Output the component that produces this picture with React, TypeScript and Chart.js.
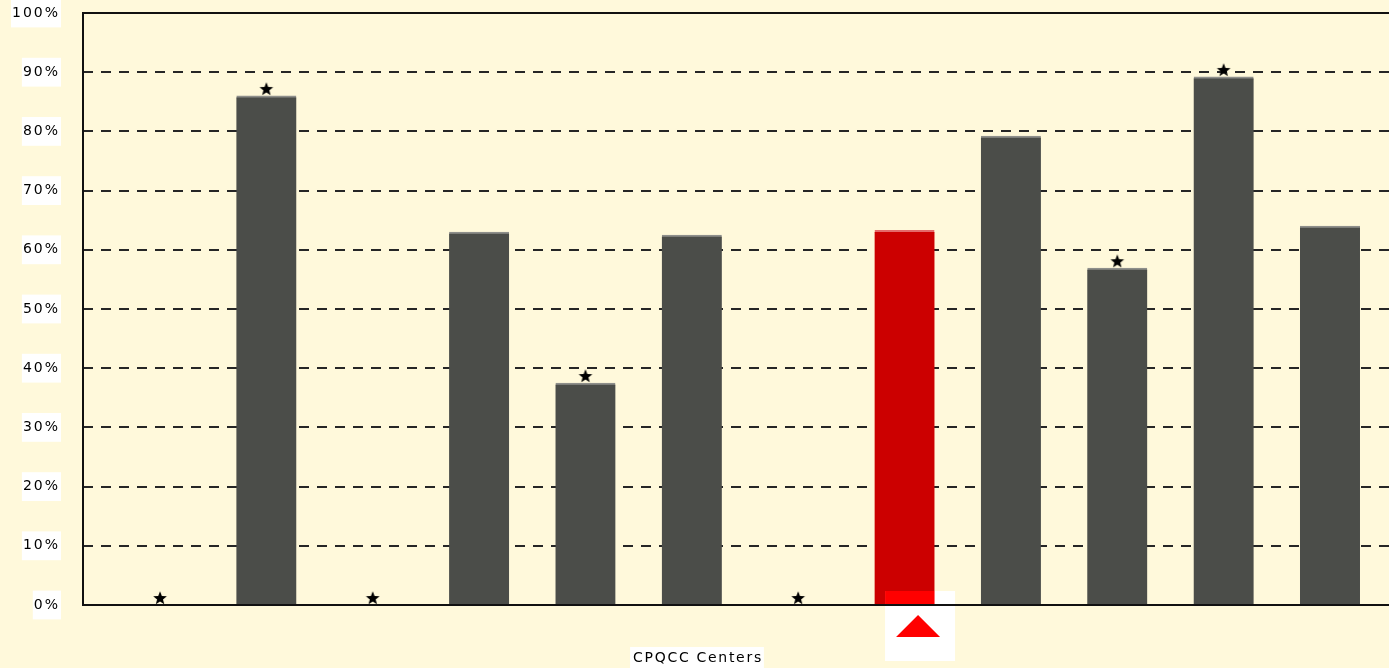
import React, { useEffect, useRef } from 'react';
import { Chart, registerables } from 'chart.js';

Chart.register(...registerables);

// ---- data ----
const centers = ['Center 1', 'Center 2', 'Center 3', 'Center 4', 'Center 5', 'Center 6', 'Center 7', 'Center 8', 'Center 9', 'Center 10', 'Center 11', 'Center 12'];
const rates: (number | null)[] = [null, 86, null, 63, 37.5, 62.5, null, 63.3, 79.2, 56.9, 89.2, 64];
const starred: boolean[] = [true, true, true, false, true, false, true, false, false, true, true, false];
const highlightIndex = 7;
const yTickValues = [0, 10, 20, 30, 40, 50, 60, 70, 80, 90, 100];
const xAxisTitle = 'CPQCC Centers';

const BG = '#FFF9DB';
const BAR = '#4B4D49';
const BAR_TOP = '#8E8F8B';
const RED = '#CC0000';
const RED_TOP = '#E46A6A';
const FONT = '"DejaVu Sans", Verdana, sans-serif';

function makeStar(): HTMLCanvasElement {
  const c = document.createElement('canvas');
  c.width = 18;
  c.height = 28;
  const g = c.getContext('2d')!;
  const cx = 9, cy = 7.5, R = 7.2, r = 3.1;
  g.beginPath();
  for (let k = 0; k < 10; k++) {
    const ang = -Math.PI / 2 + (k * Math.PI) / 5;
    const rad = k % 2 === 0 ? R : r;
    const px = cx + rad * Math.cos(ang);
    const py = cy + rad * Math.sin(ang);
    if (k === 0) g.moveTo(px, py); else g.lineTo(px, py);
  }
  g.closePath();
  g.fillStyle = '#000';
  g.fill();
  return c;
}

const spacingPlugin = {
  id: 'spacing',
  beforeUpdate(chart: any) { chart.ctx.letterSpacing = '2px'; },
  beforeDraw(chart: any) {
    chart.ctx.letterSpacing = '2px';
  },
};

const bgPlugin = {
  id: 'bgfill',
  beforeDraw(chart: any) {
    const { ctx, width, height } = chart;
    ctx.save();
    ctx.fillStyle = BG;
    ctx.fillRect(0, 0, width, height);
    ctx.restore();
  },
};

const overlayPlugin = {
  id: 'overlay',
  afterDatasetsDraw(chart: any) {
    const { ctx, chartArea } = chart;
    const el: any = chart.getDatasetMeta(0).data[highlightIndex];
    ctx.save();
    if (el) {
      const base = chartArea.bottom;
      const boxL = el.x - 19.5;
      const boxT = base - 14;
      ctx.fillStyle = '#FFFFFF';
      ctx.fillRect(boxL, boxT, 70, 70);
      ctx.fillStyle = '#FF0000';
      ctx.fillRect(boxL, boxT, el.x + el.width / 2 - boxL, base - boxT);
      ctx.beginPath();
      ctx.moveTo(boxL + 11, boxT + 46);
      ctx.lineTo(boxL + 55, boxT + 46);
      ctx.lineTo(boxL + 33, boxT + 24);
      ctx.closePath();
      ctx.fill();
    }
    // frame
    ctx.strokeStyle = '#111111';
    ctx.lineWidth = 2;
    ctx.setLineDash([]);
    ctx.strokeRect(chartArea.left, chartArea.top, chartArea.right - chartArea.left, chartArea.bottom - chartArea.top);
    // x axis title
    ctx.font = `14px ${FONT}`;
    ctx.letterSpacing = '1.7px';
    const w = ctx.measureText(xAxisTitle).width;
    const cx = 697;
    const cy = 658;
    ctx.fillStyle = '#FFFFFF';
    ctx.fillRect(cx - w / 2 - 2, cy - 11, w + 4, 22);
    ctx.fillStyle = '#000000';
    ctx.textAlign = 'center';
    ctx.textBaseline = 'middle';
    ctx.fillText(xAxisTitle, cx + 1, cy);
    ctx.restore();
  },
};

export default function App() {
  const ref = useRef<HTMLCanvasElement>(null);
  useEffect(() => {
    document.body.style.margin = '0';
    const star = makeStar();
    const barData = rates.map((v, i) => ({ x: i, y: v }));
    const starData = starred
      .map((s, i) => (s ? { x: i, y: rates[i] ?? 0 } : null))
      .filter((p) => p !== null) as { x: number; y: number }[];
    const chart = new Chart(ref.current!, {
      type: 'bar',
      data: {
        labels: centers,
        datasets: [
          {
            type: 'bar',
            label: 'Rate',
            data: barData as any,
            backgroundColor: rates.map((_, i) => (i === highlightIndex ? RED : BAR)),
            borderColor: rates.map((_, i) => (i === highlightIndex ? RED_TOP : BAR_TOP)),
            borderWidth: { top: 2, left: 0, right: 0, bottom: 0 } as any,
            borderSkipped: 'bottom',
            barThickness: 60,
          } as any,
          {
            type: 'scatter',
            label: 'Significant',
            data: starData as any,
            pointStyle: star as any,
            pointRadius: 8,
            showLine: false,
          } as any,
        ],
      },
      options: {
        responsive: false,
        animation: false,
        events: [],
        layout: { padding: { left: 0, top: 13, right: 23, bottom: 63 } },
        plugins: { legend: { display: false }, tooltip: { enabled: false }, title: { display: false } },
        scales: {
          x: {
            type: 'linear',
            display: false,
            min: -0.724,
            max: 11.724,
            offset: false,
          },
          y: {
            min: 0,
            max: 100,
            afterFit(scale: any) {
              scale.width = 83;
              scale.paddingTop = 0;
              scale.paddingBottom = 0;
            },
            afterBuildTicks(scale: any) { scale.ticks = yTickValues.map((v) => ({ value: v })); },
            grid: { color: '#262626', lineWidth: 2, drawTicks: false },
            border: { display: false, dash: [10, 8] },
            ticks: {
              padding: 23,
              color: '#000',
              font: { family: FONT, size: 14 },
              callback: (v: any) => `${v}%`,
              showLabelBackdrop: true,
              backdropColor: '#FFFFFF',
              backdropPadding: { top: 6, bottom: 6, left: 1, right: 1 },
            } as any,
          },
        },
      },
      plugins: [bgPlugin, spacingPlugin, overlayPlugin],
    });
    return () => chart.destroy();
  }, []);
  return (
    <div style={{ position: 'fixed', left: 0, top: 0, width: 1389, height: 668, overflow: 'hidden', background: BG }}>
      <canvas ref={ref} width={1430} height={668} style={{ display: 'block', width: 1430, height: 668 }} />
    </div>
  );
}
